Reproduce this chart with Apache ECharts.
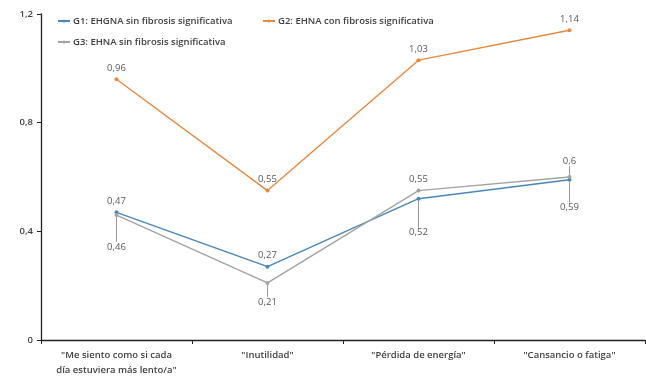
<!DOCTYPE html>
<html>
<head>
<meta charset="utf-8">
<script src="https://cdn.jsdelivr.net/npm/echarts@6/dist/echarts.min.js"></script>
<style>
  html, body { margin: 0; padding: 0; background: #fff; }
  #chart { width: 646px; height: 378px; }
</style>
</head>
<body>
<div id="chart"></div>
<script>
// Categories (x axis)
const categories = [
  '"Me siento como si cada\ndía estuviera más lento/a"',
  '"Inutilidad"',
  '"Pérdida de energía"',
  '"Cansancio o fatiga"'
];

// Series names and values
const seriesNames = [
  'G1: EHGNA sin fibrosis significativa',
  'G2: EHNA con fibrosis significativa',
  'G3: EHNA sin fibrosis significativa'
];
const g1Values = [0.47, 0.27, 0.52, 0.59];
const g2Values = [0.96, 0.55, 1.03, 1.14];
const g3Values = [0.46, 0.21, 0.55, 0.6];

// Y axis ticks
const yTicks = [0, 0.4, 0.8, 1.2];

// Vertical shift (px) of each point's label; null = default above the point
const g1LabelDy = [null, null, 45, 39];
const g2LabelDy = [null, null, null, null];
const g3LabelDy = [43, 30, null, -5];

const colors = ['#4a86b8', '#e8883f', '#a3a3a3'];
const fmt = v => String(v).replace('.', ',');
const font = 'Open Sans, sans-serif';

function makeSeries(name, values, dys, color) {
  return {
    name: name,
    type: 'line',
    data: values.map((v, i) => ({
      value: v,
      labelLine: { show: dys[i] !== null }
    })),
    symbol: 'circle',
    symbolSize: 4,
    lineStyle: { color: color, width: 1.4 },
    itemStyle: { color: color },
    label: {
      show: true,
      position: 'top',
      distance: 4,
      fontFamily: font,
      fontSize: 9.5,
      color: '#595959',
      formatter: p => fmt(p.value)
    },
    labelLine: { show: false, lineStyle: { color: '#7f7f7f', width: 0.8 } },
    labelLayout: function (params) {
      const dy = dys[params.dataIndex];
      if (dy === null || dy === undefined) return {};
      return { dy: dy };
    }
  };
}

function makeLegend(name, left, top) {
  return {
    left: left,
    top: top,
    itemWidth: 12,
    itemHeight: 4,
    itemGap: 4,
    textStyle: { fontFamily: font, fontSize: 9.5, color: '#404040', fontWeight: 600, padding: [0, 0, 0, -2] },
    data: [name]
  };
}

const chart = echarts.init(document.getElementById('chart'), null, { renderer: 'canvas' });
chart.setOption({
  animation: false,
  color: colors,
  grid: { left: 41, right: 1, top: 14, bottom: 36 },
  legend: [
    makeLegend(seriesNames[0], 52, 11),
    makeLegend(seriesNames[1], 257, 11),
    makeLegend(seriesNames[2], 52, 32)
  ],
  xAxis: {
    type: 'category',
    data: categories,
    boundaryGap: true,
    axisLine: { lineStyle: { color: '#222', width: 1.3 } },
    axisTick: { show: true, length: 4, lineStyle: { color: '#222' } },
    axisLabel: {
      fontFamily: font,
      fontSize: 9.5,
      fontWeight: 600,
      color: '#404040',
      lineHeight: 15,
      margin: 8,
      interval: 0
    }
  },
  yAxis: {
    type: 'value',
    min: 0,
    max: 1.2,
    interval: 0.4,
    axisLine: { show: true, lineStyle: { color: '#222', width: 1.3 } },
    axisTick: { show: true, length: 4, lineStyle: { color: '#222' } },
    splitLine: { show: false },
    axisLabel: {
      fontFamily: font,
      fontSize: 9.5,
      fontWeight: 600,
      color: '#404040',
      margin: 8,
      formatter: v => yTicks.indexOf(Math.round(v * 10) / 10) >= 0 ? fmt(Math.round(v * 10) / 10) : ''
    }
  },
  series: [
    makeSeries(seriesNames[0], g1Values, g1LabelDy, colors[0]),
    makeSeries(seriesNames[1], g2Values, g2LabelDy, colors[1]),
    makeSeries(seriesNames[2], g3Values, g3LabelDy, colors[2])
  ]
});
</script>
</body>
</html>
